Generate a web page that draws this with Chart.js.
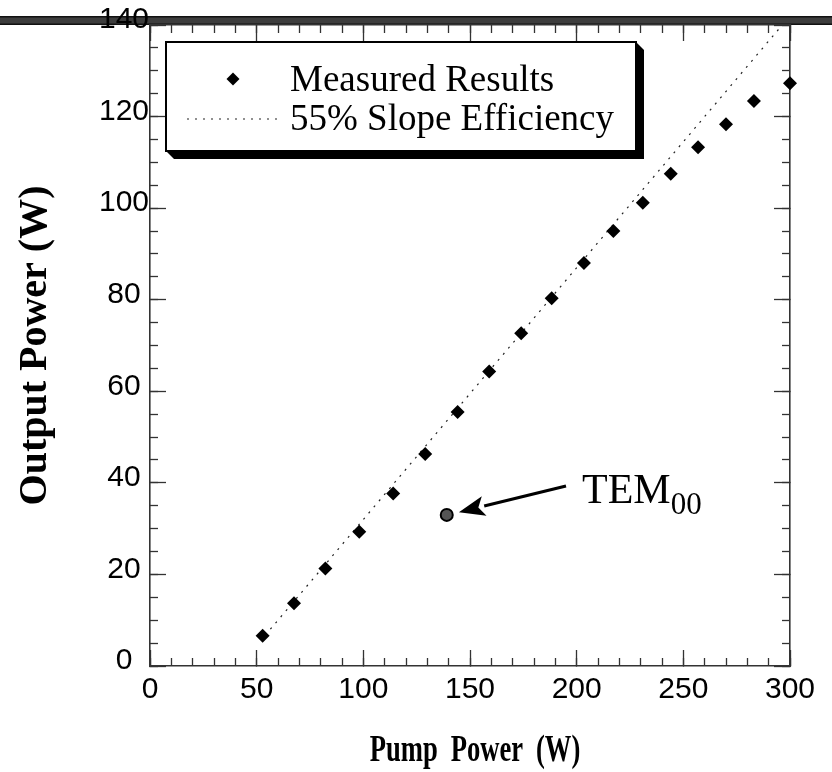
<!DOCTYPE html>
<html lang="en">
<head>
<meta charset="UTF-8">
<title>Output Power vs Pump Power</title>
<script src="https://cdn.jsdelivr.net/npm/chart.js@4.4.1/dist/chart.umd.min.js"></script>
<style>
    html, body { margin: 0; padding: 0; background: #fff; }
    canvas { display: block; }
</style>
</head>
<body>
<canvas id="powerChart" width="832" height="772"></canvas>
<script>
// measured laser output vs pump (W)
const pumpPower   = [52.8, 67.5, 82.2, 98.1, 114.0, 129.0, 144.2, 159.0, 174.0, 188.3, 203.4, 217.2, 231.0, 244.1, 256.9, 270.0, 283.1, 300.0];
const outputPower = [6.6, 13.7, 21.3, 29.3, 37.7, 46.3, 55.5, 64.3, 72.7, 80.3, 88.0, 95.0, 101.2, 107.5, 113.3, 118.3, 123.4, 127.3];

// 55% slope efficiency line (end points)
const slopeX = [54, 296];
const slopeY = [6.7, 139.8];

// TEM00 operating point
const temX = [139.1];
const temY = [33.0];

// arrow + label for the TEM00 point, in data units
const arrowTail = { x: 195, y: 39.3 };
const arrowTip  = { x: 144.8, y: 33.6 };
const temLabel  = { x: 202.5, y: 35.5 };

// tick labels
const xMajor = [0, 50, 100, 150, 200, 250, 300];
const yMajor = [0, 20, 40, 60, 80, 100, 120, 140];

const xTitle = 'Pump Power (W)';
const yTitle = 'Output Power (W)';

const serif = "'Liberation Serif', 'Times New Roman', serif";
const sans = "'Liberation Sans', Arial, sans-serif";

function pairs(xs, ys) {
    return xs.map((v, i) => ({ x: v, y: ys[i] }));
}

// one set of ticks on one side of the frame
function frameScale(axis, position, o) {
    const horiz = axis === 'x';
    return {
        type: 'linear',
        axis: axis,
        position: position,
        min: 0,
        max: horiz ? 300 : 140,
        weight: o.weight,
        afterBuildTicks: o.values ? (s => { s.ticks = o.values.map(v => ({ value: v })); }) : undefined,
        afterFit: s => {
            if (horiz) s.height = o.size; else s.width = o.size;
            // keep the plot frame where it is, labels may hang over
            s.paddingTop = s.paddingBottom = s.paddingLeft = s.paddingRight = 0;
        },
        ticks: {
            stepSize: o.step,
            autoSkip: false,
            maxRotation: 0,
            color: '#000',
            padding: o.padding || 0,
            labelOffset: o.labelOffset || 0,
            crossAlign: o.crossAlign || 'near',
            font: { family: sans, size: 30 },
            callback: o.labels ? (v => v) : (() => '')
        },
        grid: {
            drawOnChartArea: false,
            tickLength: -o.len,
            tickColor: '#333',
            tickWidth: 1.3
        },
        border: { display: !!o.border, color: '#333', width: 1.6 },
        title: o.title || { display: false }
    };
}

// dark rule across the top of the page
const pageBand = {
    id: 'pageBand',
    beforeDraw(chart) {
        const ctx = chart.ctx;
        ctx.save();
        ctx.fillStyle = '#3d3d3d';
        ctx.fillRect(0, 16, chart.width, 9);
        ctx.fillStyle = '#111';
        ctx.fillRect(0, 16, chart.width, 1.5);
        ctx.fillRect(0, 23.5, chart.width, 1.5);
        ctx.restore();
    }
};

// condensed bold x title
const xTitlePlugin = {
    id: 'xTitlePlugin',
    afterDraw(chart) {
        const ctx = chart.ctx;
        const a = chart.chartArea;
        ctx.save();
        ctx.translate((a.left + a.right) / 2 + 5, 761);
        ctx.scale(0.7, 1);
        ctx.fillStyle = '#000';
        ctx.font = 'bold 38px ' + serif;
        if ('wordSpacing' in ctx) ctx.wordSpacing = '9px';
        ctx.textAlign = 'center';
        ctx.textBaseline = 'alphabetic';
        ctx.fillText(xTitle, 0, 0);
        ctx.restore();
    }
};

// boxed legend with drop shadow
const boxLegend = {
    id: 'boxLegend',
    afterDraw(chart) {
        const ctx = chart.ctx;
        const measured = chart.data.datasets[0];
        const slope = chart.data.datasets[1];
        const bx = 166, by = 42, bw = 470, bh = 109, sh = 8;
        ctx.save();
        ctx.fillStyle = '#000';
        ctx.beginPath();
        ctx.moveTo(bx, by + bh);
        ctx.lineTo(bx + sh, by + bh + sh);
        ctx.lineTo(bx + bw + sh, by + bh + sh);
        ctx.lineTo(bx + bw + sh, by + sh);
        ctx.lineTo(bx + bw, by);
        ctx.closePath();
        ctx.fill();
        ctx.fillStyle = '#fff';
        ctx.fillRect(bx, by, bw, bh);
        ctx.lineWidth = 2;
        ctx.strokeStyle = '#000';
        ctx.strokeRect(bx, by, bw, bh);

        // diamond
        ctx.fillStyle = '#000';
        ctx.beginPath();
        ctx.moveTo(233 - 6.5, 79);
        ctx.lineTo(233, 79 - 6.5);
        ctx.lineTo(233 + 6.5, 79);
        ctx.lineTo(233, 79 + 6.5);
        ctx.closePath();
        ctx.fill();

        // dotted sample
        ctx.strokeStyle = slope.borderColor;
        ctx.lineWidth = slope.borderWidth;
        ctx.setLineDash(slope.borderDash);
        ctx.beginPath();
        ctx.moveTo(187, 119);
        ctx.lineTo(277, 119);
        ctx.stroke();
        ctx.setLineDash([]);

        ctx.fillStyle = '#000';
        ctx.font = '37px ' + serif;
        ctx.textBaseline = 'alphabetic';
        ctx.textAlign = 'left';
        ctx.fillText(measured.label, 290, 91);
        ctx.fillText(slope.label, 290, 130);
        ctx.restore();
    }
};

// arrow pointing at the TEM00 point
const temNote = {
    id: 'temNote',
    afterDatasetsDraw(chart) {
        const ctx = chart.ctx;
        const x = chart.scales.x, y = chart.scales.y;
        const x0 = x.getPixelForValue(arrowTail.x), y0 = y.getPixelForValue(arrowTail.y);
        const x1 = x.getPixelForValue(arrowTip.x), y1 = y.getPixelForValue(arrowTip.y);
        const ang = Math.atan2(y1 - y0, x1 - x0);
        const headLen = 26, headHalf = 10;
        const bxp = x1 - headLen * Math.cos(ang), byp = y1 - headLen * Math.sin(ang);
        ctx.save();
        ctx.strokeStyle = '#000';
        ctx.lineWidth = 3.2;
        ctx.beginPath();
        ctx.moveTo(x0, y0);
        ctx.lineTo(bxp, byp);
        ctx.stroke();
        ctx.fillStyle = '#000';
        ctx.beginPath();
        ctx.moveTo(x1, y1);
        ctx.lineTo(bxp + headHalf * Math.sin(ang), byp - headHalf * Math.cos(ang));
        ctx.lineTo(bxp + 6 * Math.cos(ang), byp + 6 * Math.sin(ang));
        ctx.lineTo(bxp - headHalf * Math.sin(ang), byp + headHalf * Math.cos(ang));
        ctx.closePath();
        ctx.fill();

        const tx = x.getPixelForValue(temLabel.x), ty = y.getPixelForValue(temLabel.y);
        ctx.textBaseline = 'alphabetic';
        ctx.textAlign = 'left';
        ctx.font = '42px ' + serif;
        ctx.fillText('TEM', tx, ty);
        const w = ctx.measureText('TEM').width;
        ctx.font = '31px ' + serif;
        ctx.fillText('00', tx + w, ty + 11);
        ctx.restore();
    }
};

const ctx = document.getElementById('powerChart').getContext('2d');
new Chart(ctx, {
    type: 'scatter',
    data: {
        datasets: [{
            label: 'Measured Results',
            data: pairs(pumpPower, outputPower),
            pointStyle: 'rectRot',
            pointRadius: 7,
            pointHoverRadius: 7,
            backgroundColor: '#000',
            borderColor: '#000',
            pointBorderWidth: 0,
            clip: false,
            xAxisID: 'x',
            yAxisID: 'y'
        }, {
            label: '55% Slope Efficiency',
            data: pairs(slopeX, slopeY),
            showLine: true,
            borderColor: '#222',
            borderWidth: 1.2,
            borderDash: [2, 6],
            pointRadius: 0,
            xAxisID: 'x',
            yAxisID: 'y'
        }, {
            label: 'TEM00',
            data: pairs(temX, temY),
            pointStyle: 'circle',
            pointRadius: 6,
            backgroundColor: '#555',
            borderColor: '#000',
            pointBorderWidth: 2,
            xAxisID: 'x',
            yAxisID: 'y'
        }]
    },
    options: {
        responsive: false,
        animation: false,
        events: [],
        layout: { padding: { top: 25, right: 42, left: 0, bottom: 0 } },
        plugins: {
            legend: { display: false },
            tooltip: { enabled: false }
        },
        scales: {
            xMinor: frameScale('x', 'bottom', { weight: 0, size: 0, step: 10, len: 8 }),
            x: frameScale('x', 'bottom', { weight: 1, size: 106, values: xMajor, len: 16, labels: true, border: true, padding: 22 }),
            yMinor: frameScale('y', 'left', { weight: 0, size: 0, step: 5, len: 8 }),
            y: frameScale('y', 'left', {
                weight: 1, size: 150, values: yMajor, len: 16, labels: true, border: true,
                padding: 17, labelOffset: -5, crossAlign: 'center',
                title: {
                    display: true,
                    text: yTitle,
                    color: '#000',
                    font: { family: serif, size: 40, weight: 'bold' },
                    padding: { top: 12, bottom: 0 }
                }
            }),
            xTopMinor: frameScale('x', 'top', { weight: 0, size: 0, step: 10, len: 8 }),
            xTop: frameScale('x', 'top', { weight: 1, size: 0, values: xMajor, len: 16, border: true }),
            yRightMinor: frameScale('y', 'right', { weight: 0, size: 0, step: 5, len: 8 }),
            yRight: frameScale('y', 'right', { weight: 1, size: 0, values: yMajor, len: 16, border: true })
        }
    },
    plugins: [pageBand, temNote, boxLegend, xTitlePlugin]
});
</script>
</body>
</html>
